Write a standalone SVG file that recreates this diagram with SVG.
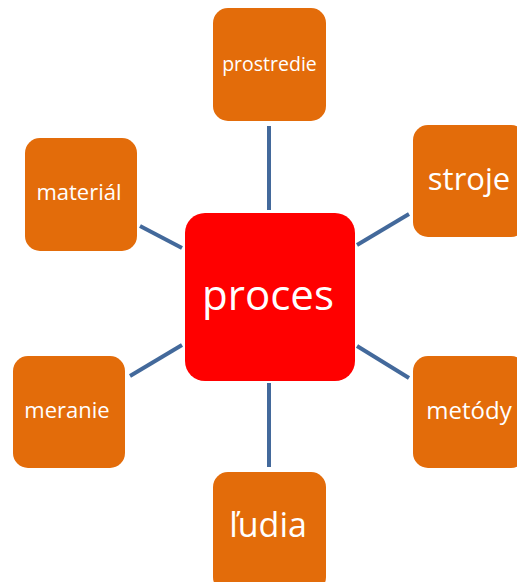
<svg xmlns="http://www.w3.org/2000/svg" width="517" height="582" viewBox="0 0 517 582">
  <style>
    .link { stroke: #43699B; stroke-width: 4; stroke-linecap: butt; fill: none; }
    .leaf { fill: #E36C0A; }
    .hub { fill: #FF0000; }
    text { font-family: "Open Sans", "Noto Sans", "DejaVu Sans", sans-serif; fill: #FFFFFF; text-anchor: middle; }
  </style>
  <rect width="517" height="582" fill="#FFFFFF"/>

  <!-- spokes from the hub to each factor -->
  <g id="connectors">
    <line class="link" x1="269" y1="126" x2="269" y2="210"/>
    <line class="link" x1="357" y1="245" x2="409" y2="214"/>
    <line class="link" x1="140" y1="226" x2="182" y2="248"/>
    <line class="link" x1="130" y1="376" x2="182" y2="345"/>
    <line class="link" x1="357" y1="346" x2="409" y2="378"/>
    <line class="link" x1="269" y1="383" x2="269" y2="467"/>
  </g>

  <g id="proces">
    <rect class="hub" x="185" y="213" width="170" height="168" rx="20" ry="20"/>
    <text x="268" y="310" font-size="42">proces</text>
  </g>

  <g id="prostredie">
    <rect class="leaf" x="213" y="8" width="113" height="113" rx="15" ry="15"/>
    <text x="269.5" y="71" font-size="19.5">prostredie</text>
  </g>

  <g id="stroje">
    <rect class="leaf" x="413" y="125" width="113" height="112" rx="15" ry="15"/>
    <text x="469" y="190" font-size="31">stroje</text>
  </g>

  <g id="material">
    <rect class="leaf" x="25" y="138" width="112" height="113" rx="15" ry="15"/>
    <text x="79" y="200" font-size="22">materiál</text>
  </g>

  <g id="meranie">
    <rect class="leaf" x="13" y="356" width="112" height="112" rx="15" ry="15"/>
    <text x="67" y="418" font-size="22">meranie</text>
  </g>

  <g id="metody">
    <rect class="leaf" x="413" y="356" width="113" height="112" rx="15" ry="15"/>
    <text x="469" y="419" font-size="24">metódy</text>
  </g>

  <g id="ludia">
    <rect class="leaf" x="213" y="472" width="113" height="120" rx="15" ry="15"/>
    <text x="268" y="537" font-size="34">ľudia</text>
  </g>
</svg>
